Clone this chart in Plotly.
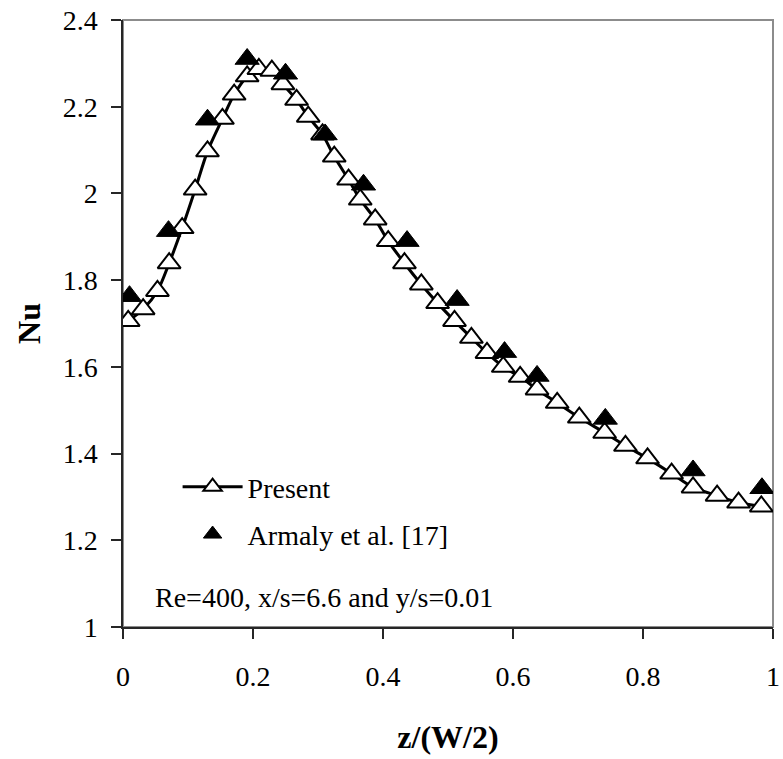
import plotly.graph_objects as go

# Present (numerical) results
present_x = [0.008, 0.031, 0.053, 0.071, 0.091, 0.111, 0.130, 0.153, 0.171, 0.191,
             0.209, 0.229, 0.246, 0.267, 0.285, 0.307, 0.325, 0.347, 0.365, 0.388,
             0.408, 0.433, 0.459, 0.484, 0.510, 0.536, 0.560, 0.585, 0.611, 0.637,
             0.668, 0.702, 0.741, 0.773, 0.807, 0.844, 0.877, 0.914, 0.947, 0.982]
present_y = [1.706, 1.733, 1.775, 1.839, 1.920, 2.009, 2.097, 2.172, 2.228, 2.270,
             2.287, 2.283, 2.252, 2.216, 2.177, 2.136, 2.085, 2.032, 1.986, 1.940,
             1.890, 1.839, 1.790, 1.747, 1.706, 1.667, 1.632, 1.600, 1.577, 1.548,
             1.517, 1.483, 1.448, 1.418, 1.389, 1.354, 1.322, 1.303, 1.287, 1.278]

# Armaly et al. [17] experimental data
armaly_x = [0.010, 0.070, 0.130, 0.191, 0.250, 0.311, 0.370, 0.437, 0.514, 0.587,
            0.637, 0.742, 0.877, 0.983]
armaly_y = [1.763, 1.913, 2.170, 2.310, 2.276, 2.136, 2.020, 1.890, 1.754, 1.634,
            1.579, 1.480, 1.361, 1.320]

x_ticks = [0, 0.2, 0.4, 0.6, 0.8, 1]
x_ticklabels = ["0", "0.2", "0.4", "0.6", "0.8", "1"]
y_ticks = [1, 1.2, 1.4, 1.6, 1.8, 2, 2.2, 2.4]
y_ticklabels = ["1", "1.2", "1.4", "1.6", "1.8", "2", "2.2", "2.4"]

FONT = "Liberation Serif, Times New Roman, serif"

fig = go.Figure()
fig.add_trace(go.Scatter(
    x=present_x, y=present_y, name="Present", mode="lines+markers",
    line=dict(color="black", width=3, shape="spline", smoothing=0.8),
    marker=dict(symbol="triangle-up", size=20, color="white",
                line=dict(color="black", width=2)),
    legendgroup="a",
))
fig.add_trace(go.Scatter(
    x=armaly_x, y=armaly_y, name="Armaly et al. [17]", mode="markers",
    marker=dict(symbol="triangle-up", size=21, color="black",
                line=dict(color="black", width=1)),
    legendgroup="b",
))

fig.update_layout(
    width=783, height=759,
    margin=dict(l=123, r=10, t=20, b=132),
    plot_bgcolor="white", paper_bgcolor="white",
    font=dict(family=FONT, size=28, color="black"),
    showlegend=True,
    legend=dict(x=0.084, y=0.192, xanchor="left", yanchor="middle",
                bgcolor="rgba(0,0,0,0)", borderwidth=0,
                font=dict(family=FONT, size=28),
                itemwidth=60, tracegroupgap=8, traceorder="grouped"),
    shapes=[dict(type="rect", xref="paper", yref="paper", x0=0, y0=0, x1=1, y1=1,
                 line=dict(color="#8c8c8c", width=2), layer="below")],
    annotations=[dict(text="Re=400, x/s=6.6 and y/s=0.01", x=0.046, y=0.048,
                      xref="paper", yref="paper", xanchor="left", yanchor="middle",
                      showarrow=False, font=dict(family=FONT, size=28))],
)
fig.update_xaxes(
    range=[0, 1], tickvals=x_ticks, ticktext=x_ticklabels, automargin=False,
    showgrid=False, zeroline=False, showline=True, linecolor="#262626", linewidth=1.5,
    ticks="outside", ticklen=10, tickcolor="#262626", tickwidth=1.5,
    tickfont=dict(family=FONT, size=28), ticklabelstandoff=14,
    title=dict(text="<b>z/(W/2)</b>", font=dict(family=FONT, size=32), standoff=34),
)
fig.update_yaxes(
    range=[1, 2.4], tickvals=y_ticks, ticktext=y_ticklabels, automargin=False,
    showgrid=False, zeroline=False, showline=True, linecolor="#262626", linewidth=1.5,
    ticks="outside", ticklen=10, tickcolor="#262626", tickwidth=1.5,
    tickfont=dict(family=FONT, size=28), ticklabelstandoff=8,
    title=dict(text="<b>Nu</b>", font=dict(family=FONT, size=32), standoff=12),
)

fig.write_html("out.html")
